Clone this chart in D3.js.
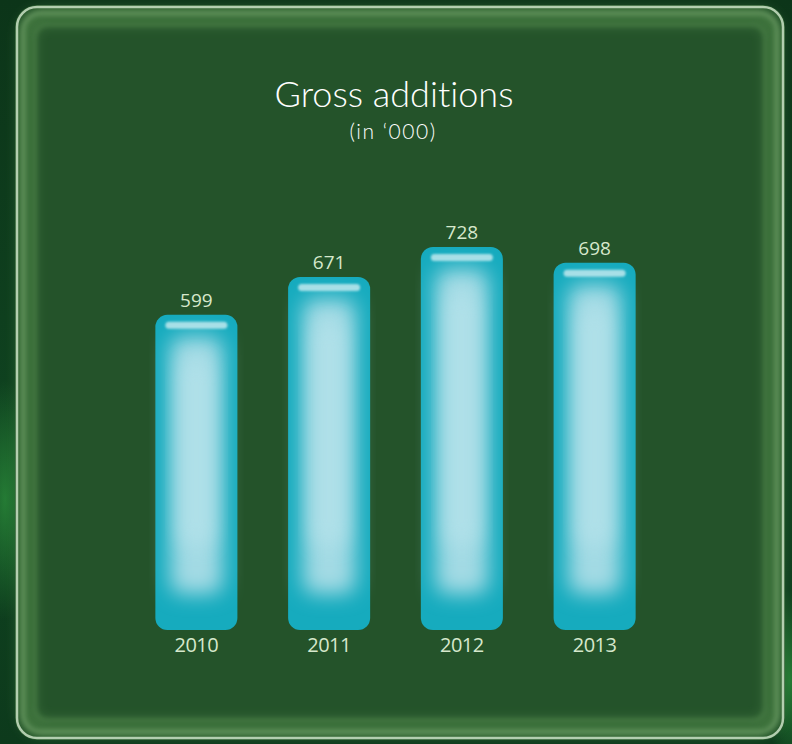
<!DOCTYPE html>
<html><head><meta charset="utf-8">
<script src="https://cdn.jsdelivr.net/npm/d3@7"></script>
<style>html,body{margin:0;padding:0;background:#0e3a1d;}svg{display:block;}text{font-variant-ligatures:none;font-feature-settings:"liga" 0;}</style>
</head><body>
<script>
const years = ["2010", "2011", "2012", "2013"];
const values = [599, 671, 728, 698];
const title = "Gross additions";
const subtitle = "(in ‘000)";

const W = 792, H = 744;
const svg = d3.select("body").append("svg").attr("width", W).attr("height", H);
const defs = svg.append("defs");

const bg = defs.append("linearGradient").attr("id","bg").attr("x1",0).attr("y1",0).attr("x2",0).attr("y2",1);
bg.append("stop").attr("offset","0%").attr("stop-color","#0c3519");
bg.append("stop").attr("offset","60%").attr("stop-color","#0f4320");
bg.append("stop").attr("offset","100%").attr("stop-color","#0d3a1c");
svg.append("rect").attr("width",W).attr("height",H).attr("fill","url(#bg)");
const glow = defs.append("radialGradient").attr("id","glow");
glow.append("stop").attr("offset","0%").attr("stop-color","#2a8a3a").attr("stop-opacity",0.8);
glow.append("stop").attr("offset","100%").attr("stop-color","#2a8a3a").attr("stop-opacity",0);
svg.append("ellipse").attr("cx",5).attr("cy",500).attr("rx",30).attr("ry",120).attr("fill","url(#glow)");
svg.append("ellipse").attr("cx",790).attr("cy",680).attr("rx",25).attr("ry",90).attr("fill","url(#glow)");

const blur2 = defs.append("filter").attr("id","blur2").attr("x","-10%").attr("y","-10%").attr("width","120%").attr("height","120%");
blur2.append("feGaussianBlur").attr("stdDeviation",2.5);
const blur6 = defs.append("filter").attr("id","blur6").attr("x","-20%").attr("y","-20%").attr("width","140%").attr("height","140%");
blur6.append("feGaussianBlur").attr("stdDeviation",7);

const px = 15, py = 5, pw = 770, ph = 735;
svg.append("rect").attr("x",px).attr("y",py).attr("width",pw).attr("height",ph).attr("rx",22)
  .attr("fill","#24532a");
svg.append("rect").attr("x",px+12).attr("y",py+12).attr("width",pw-24).attr("height",ph-24).attr("rx",16)
  .attr("fill","none").attr("stroke","#6fb060").attr("stroke-width",14).attr("opacity",0.45).attr("filter","url(#blur6)");
svg.append("rect").attr("x",px+8).attr("y",py+8).attr("width",pw-16).attr("height",ph-16).attr("rx",18)
  .attr("fill","none").attr("stroke","#a9d69a").attr("stroke-width",3).attr("opacity",0.55).attr("filter","url(#blur2)");
svg.append("rect").attr("x",px+2).attr("y",py+2).attr("width",pw-4).attr("height",ph-4).attr("rx",20)
  .attr("fill","none").attr("stroke","#d4ead0").attr("stroke-width",2.5).attr("opacity",0.8);
svg.append("rect").attr("x",px+20).attr("y",py+20).attr("width",pw-40).attr("height",ph-40).attr("rx",12)
  .attr("fill","none").attr("stroke","#8cc47a").attr("stroke-width",2).attr("opacity",0.35).attr("filter","url(#blur2)");

svg.append("text").attr("x",394).attr("y",107).attr("text-anchor","middle")
  .attr("font-family","Lato").attr("font-weight",300).attr("font-size",36)
  .attr("fill","#ffffff").text(title);
svg.append("text").attr("x",393).attr("y",139).attr("text-anchor","middle")
  .attr("font-family","Lato").attr("font-weight",300).attr("font-size",21).attr("letter-spacing",1.5)
  .attr("fill","#ffffff").text(subtitle);

const x = d3.scaleBand().domain(years).range([130, 661]).paddingInner(0.382).paddingOuter(0.191);
const y = d3.scaleLinear().domain([0, d3.max(values)]).range([630, 247]);

const data = years.map((yr,i)=>({yr, v: values[i]}));

const blurBar = defs.append("filter").attr("id","blurBar").attr("x","-40%").attr("y","-30%").attr("width","180%").attr("height","160%");
blurBar.append("feGaussianBlur").attr("stdDeviation",10);
const bs = defs.append("filter").attr("id","blurSmall").attr("x","-20%").attr("y","-100%").attr("width","140%").attr("height","300%");
bs.append("feGaussianBlur").attr("stdDeviation",1.3);

const g = svg.append("g");
const bars = g.selectAll("g.bar").data(data).join("g").attr("class","bar");
bars.append("rect")
  .attr("x", d=>x(d.yr)).attr("y", d=>y(d.v))
  .attr("width", x.bandwidth()).attr("height", d=>y(0)-y(d.v))
  .attr("rx",12).attr("fill","#16abbe");
bars.append("rect")
  .attr("x", d=>x(d.yr)+15).attr("y", d=>y(d.v)+22)
  .attr("width", x.bandwidth()-30).attr("height", d=>y(0)-y(d.v)-58)
  .attr("rx",12).attr("fill","#a2dae4").attr("filter","url(#blurBar)");
bars.append("rect")
  .attr("x", d=>x(d.yr)+24).attr("y", d=>y(d.v)+45)
  .attr("width", x.bandwidth()-48).attr("height", d=>y(0)-y(d.v)-130)
  .attr("rx",10).attr("fill","#b6e3eb").attr("filter","url(#blurBar)").attr("opacity",0.7);
bars.append("rect")
  .attr("x", d=>x(d.yr)+10).attr("y", d=>y(d.v)+7)
  .attr("width", x.bandwidth()-20).attr("height", 7)
  .attr("rx",3.5).attr("fill","#bfe8ee").attr("opacity",0.85).attr("filter","url(#blurSmall)");

bars.append("text")
  .attr("x", d=>x(d.yr)+x.bandwidth()/2).attr("y", d=>y(d.v)-8)
  .attr("text-anchor","middle").attr("font-family","Open Sans").attr("font-weight",500).attr("font-size",19)
  .attr("fill","#d6e8cc").text(d=>d.v);
bars.append("text")
  .attr("x", d=>x(d.yr)+x.bandwidth()/2).attr("y", 652)
  .attr("text-anchor","middle").attr("font-family","Open Sans").attr("font-weight",500).attr("font-size",20)
  .attr("letter-spacing",-0.5)
  .attr("fill","#d6e8cc").text(d=>d.yr);
</script>
</body></html>
